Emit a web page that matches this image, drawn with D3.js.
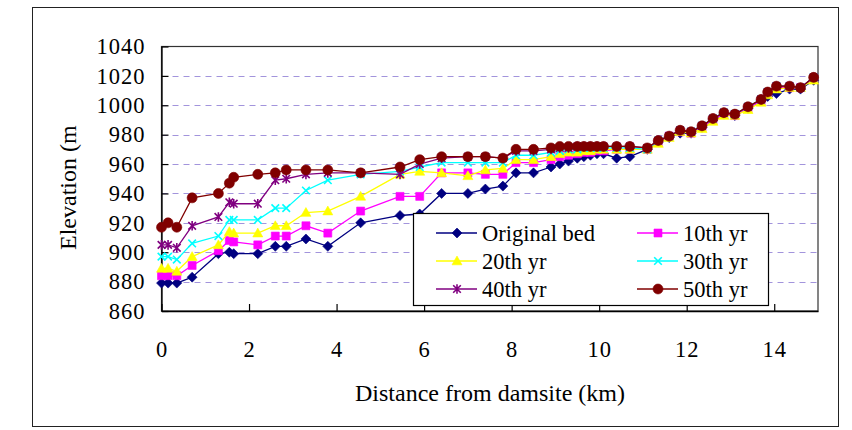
<!DOCTYPE html>
<html>
<head>
<meta charset="utf-8">
<script src="https://cdn.jsdelivr.net/npm/d3@7/dist/d3.min.js"></script>
<style>
  body { margin: 0; background: #fff; }
</style>
</head>
<body>
<div id="chart"></div>
<script>
// cross sections (km from damsite)
const distance_km = [0, 0.15, 0.35, 0.7, 1.3, 1.55, 1.65, 2.2, 2.6, 2.85, 3.3, 3.8, 4.55, 5.45, 5.9,
  6.4, 7.0, 7.4, 7.8, 8.1, 8.5, 8.9, 9.1, 9.3, 9.5, 9.65, 9.8, 9.95, 10.1, 10.4, 10.7, 11.1,
  11.35, 11.6, 11.85, 12.1, 12.35, 12.6, 12.85, 13.1, 13.4, 13.7, 13.85, 14.05, 14.35, 14.6, 14.9];

const original_bed = [879, 879, 879, 883, 899, 900, 899, 899, 904, 904, 909, 904, 920, 925, 926,
  940, 940, 943, 945, 954, 954, 958, 960, 962, 964, 965, 966, 967, 967, 964, 965, 970,
  975, 978, 981, 981, 985, 990, 994, 993, 998, 1003, 1006, 1008, 1011, 1011, 1017];
const yr10 = [884, 884, 884, 891, 901, 908, 907, 905, 911, 911, 918, 913, 928, 938, 938,
  954, 954, 953, 953, 961, 961, 963, 965, 966, 967, 968, 968, 969, 969, 970, 970, 970,
  975, 979, 982, 981, 985, 990, 994, 993, 998, 1003, 1008, 1012, 1012, 1012, 1018];
const yr20 = [889, 889, 887, 897, 905, 914, 913, 913, 918, 918, 927, 928, 938, 953, 955,
  954, 952, 956, 957, 963, 963, 965, 967, 968, 968, 969, 969, 970, 970, 970, 970, 970,
  974, 978, 982, 981, 984, 989, 993, 993, 997, 1002, 1007, 1011, 1012, 1012, 1017];
const yr30 = [897, 897, 895, 906, 911, 922, 922, 922, 930, 930, 942, 949, 953, 955, 958,
  961, 961, 961, 961, 966, 966, 968, 969, 970, 970, 971, 971, 971, 971, 971, 971, 970,
  976, 979, 983, 982, 986, 991, 995, 994, 999, 1004, 1009, 1013, 1013, 1012, 1019];
const yr40 = [905, 905, 903, 918, 924, 934, 933, 933, 949, 950, 953, 954, 954, 953, 960,
  964, 965, 965, 964, 969, 969, 970, 971, 971, 972, 972, 972, 972, 972, 972, 972, 971,
  976, 979, 983, 982, 986, 991, 995, 994, 999, 1004, 1009, 1013, 1013, 1012, 1019];
const yr50 = [917, 920, 917, 937, 940, 947, 951, 953, 954, 956, 956, 956, 954, 958, 963,
  965, 965, 965, 964, 970, 970, 971, 972, 972, 972, 972, 972, 972, 972, 972, 972, 971,
  976, 979, 983, 982, 986, 991, 995, 994, 999, 1004, 1009, 1013, 1013, 1012, 1019];

const series_names = ["Original bed", "10th yr", "20th yr", "30th yr", "40th yr", "50th yr"];
const y_ticks = [860, 880, 900, 920, 940, 960, 980, 1000, 1020, 1040];
const x_ticks = [0, 2, 4, 6, 8, 10, 12, 14];

const series_style = [
  {color: "#000080", marker: "diamond"},
  {color: "#ff00ff", marker: "square"},
  {color: "#ffff00", marker: "triangle"},
  {color: "#00ffff", marker: "cross"},
  {color: "#800080", marker: "star"},
  {color: "#800000", marker: "circle"}
];
const series_values = [original_bed, yr10, yr20, yr30, yr40, yr50];

const serif = "'Liberation Serif', 'Times New Roman', 'DejaVu Serif', serif";
const W = 852, H = 430;
const plot = {left: 161.5, right: 818, top: 46.5, bottom: 311};

const svg = d3.select("#chart").append("svg")
  .attr("width", W)
  .attr("height", H);

// outer chart border
svg.append("rect")
  .attr("x", 32.5).attr("y", 7.5)
  .attr("width", 806).attr("height", 419)
  .attr("fill", "#fff")
  .attr("stroke", "#222")
  .attr("stroke-width", 1);

let x = d3.scaleLinear().domain([0, 15]).range([plot.left, plot.right]);
let y = d3.scaleLinear().domain([860, 1040]).range([plot.bottom, plot.top]);

// gridlines
svg.append("g")
  .selectAll("line")
  .data(y_ticks.filter(d => d > 860 && d < 1040))
  .enter().append("line")
  .attr("x1", plot.left).attr("x2", plot.right)
  .attr("y1", d => Math.round(y(d)) + 0.5)
  .attr("y2", d => Math.round(y(d)) + 0.5)
  .attr("stroke", "#a294dc")
  .attr("stroke-width", 1)
  .attr("stroke-dasharray", "6,5");

// plot frame
svg.append("rect")
  .attr("x", plot.left).attr("y", plot.top)
  .attr("width", plot.right - plot.left)
  .attr("height", plot.bottom - plot.top)
  .attr("fill", "none")
  .attr("stroke", "#333")
  .attr("stroke-width", 1.2);

// axes
let y_axis = svg.append("g")
  .attr("transform", "translate(" + plot.left + ",0)")
  .call(d3.axisLeft(y).tickValues(y_ticks).tickFormat(d3.format("d"))
    .tickSizeInner(-7).tickSizeOuter(0).tickPadding(16));
let x_axis = svg.append("g")
  .attr("transform", "translate(0," + plot.bottom + ")")
  .call(d3.axisBottom(x).tickValues(x_ticks).tickFormat(d3.format("d"))
    .tickSizeInner(-7).tickSizeOuter(0).tickPadding(30));

[y_axis, x_axis].forEach(function(ax) {
  ax.attr("font-family", null);
  ax.selectAll("path.domain").attr("stroke", "#000").attr("stroke-width", 1.3);
  ax.selectAll(".tick line").attr("stroke", "#000").attr("stroke-width", 1.2);
  ax.selectAll(".tick text")
    .style("font-family", serif)
    .style("font-size", "22.5px")
    .attr("letter-spacing", 1)
    .attr("fill", "#000");
});

function marker_path(type) {
  if (type === "diamond") return "M0,-5L5,0L0,5L-5,0Z";
  if (type === "square") return "M-4,-4H4V4H-4Z";
  if (type === "triangle") return "M0,-5L5,3.8L-5,3.8Z";
  if (type === "cross") return "M-3.8,-3.8L3.8,3.8M3.8,-3.8L-3.8,3.8";
  if (type === "star") return "M-3.8,-3.8L3.8,3.8M3.8,-3.8L-3.8,3.8M0,-4.8V4.8";
  return "M5,0A5,5 0 1,1 -5,0A5,5 0 1,1 5,0Z";
}

function draw_marker(sel, style) {
  let open = style.marker === "cross" || style.marker === "star";
  sel.attr("d", marker_path(style.marker))
    .attr("fill", open ? "none" : style.color)
    .attr("stroke", style.color)
    .attr("stroke-width", open ? 1.6 : 0.6);
}

let line = d3.line()
  .x(d => x(d[0]))
  .y(d => y(d[1]));

series_values.forEach(function(vals, i) {
  let pts = distance_km.map((d, j) => [d, vals[j]]);
  let g = svg.append("g").attr("class", "series");
  g.append("path")
    .attr("d", line(pts))
    .attr("fill", "none")
    .attr("stroke", series_style[i].color)
    .attr("stroke-width", 1.3);
  g.selectAll("path.mk")
    .data(pts)
    .enter().append("path")
    .attr("class", "mk")
    .attr("transform", d => "translate(" + x(d[0]) + "," + y(d[1]) + ")")
    .call(draw_marker, series_style[i]);
});

// legend
let legend = svg.append("g");
legend.append("rect")
  .attr("x", 413.5).attr("y", 213.5)
  .attr("width", 355).attr("height", 92)
  .attr("fill", "#fff")
  .attr("stroke", "#000")
  .attr("stroke-width", 1.2);

let col_x = [436, 637];
let row_y = [233, 261, 289];
series_names.forEach(function(name, i) {
  let cx = col_x[i % 2], cy = row_y[Math.floor(i / 2)];
  legend.append("line")
    .attr("x1", cx).attr("x2", cx + 41)
    .attr("y1", cy).attr("y2", cy)
    .attr("stroke", series_style[i].color)
    .attr("stroke-width", 1.5);
  legend.append("path")
    .attr("transform", "translate(" + (cx + 21) + "," + cy + ")")
    .call(draw_marker, series_style[i]);
  legend.append("text")
    .attr("x", cx + 46)
    .attr("y", cy)
    .attr("dy", "0.35em")
    .style("font-family", serif)
    .style("font-size", "22.5px")
    .text(name);
});

// axis titles
svg.append("text")
  .attr("x", 490)
  .attr("y", 393)
  .attr("dy", "0.35em")
  .attr("text-anchor", "middle")
  .style("font-family", serif)
  .style("font-size", "24px")
  .text("Distance from damsite (km)");

svg.append("text")
  .attr("transform", "translate(68,250) rotate(-90)")
  .attr("dominant-baseline", "central")
  .attr("text-anchor", "start")
  .style("font-family", serif)
  .style("font-size", "24px")
  .text("Elevation (m");
</script>
</body>
</html>
